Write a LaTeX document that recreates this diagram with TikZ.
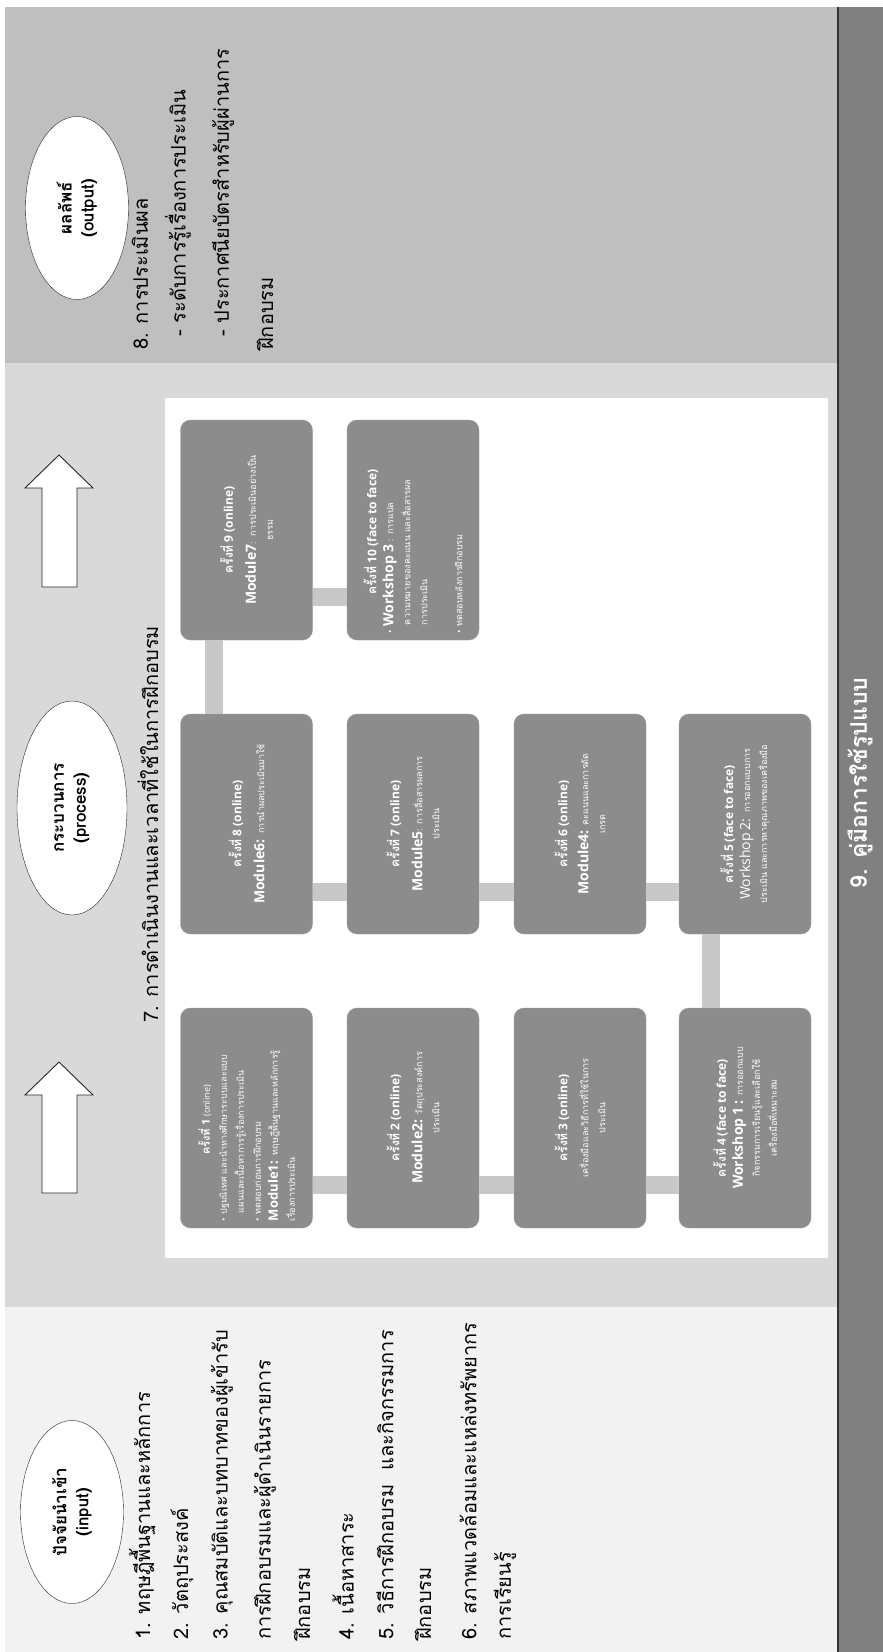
\documentclass[tikz,border=0pt]{standalone}
\usepackage{fontspec}
\setmainfont{Loma}[Script=Thai]
\newfontfamily\labelfont{Open Sans}
\usetikzlibrary{shapes.geometric, calc, positioning}

\definecolor{outPanel}{HTML}{BFBFBF}
\definecolor{procPanel}{HTML}{D9D9D9}
\definecolor{inPanel}{HTML}{F2F2F2}
\definecolor{bannerGray}{HTML}{808080}
\definecolor{boxGray}{HTML}{8C8C8C}
\definecolor{barGray}{HTML}{C8C8C8}

\newcommand{\sessiontitle}[2]{{\fontsize{12}{14}\selectfont\bfseries ครั้งที่ {\labelfont #1 #2}}}
\newcommand{\modname}[1]{{\labelfont\bfseries\fontsize{14}{16}\selectfont #1}}

\tikzset{
  phase/.style={ellipse, draw=black!85, thin, fill=white, rotate=90,
    minimum width=183pt, minimum height=103pt, inner sep=0pt, align=center,
    font=\fontsize{17}{22}\selectfont\bfseries},
  listtext/.style={rotate=90, anchor=west, inner sep=0pt,
    font=\fontsize{20}{24}\selectfont},
  module/.style={rectangle, rounded corners=10pt, fill=boxGray,
    draw=boxGray!85!white, text=white, rotate=90,
    minimum width=220pt, minimum height=132pt, text width=206pt,
    align=center, inner sep=2pt, font=\fontsize{9}{17}\selectfont},
  bar/.style={draw=barGray, line width=18pt},
  bigarrow/.style={draw=black!85, fill=white, line width=0.9pt, line join=miter}
}

\begin{document}
\begin{tikzpicture}[x=1pt, y=-1pt]
  \useasboundingbox (0,0) rectangle (883,1652);
  % Panels
  \fill[outPanel] (5,7) rectangle (837,363);
  \fill[procPanel] (5,363) rectangle (837,1307);
  \fill[inPanel] (5,1307) rectangle (837,1652);
  \fill[white] (165,398) rectangle (828,1258);
  % Banner
  \fill[bannerGray] (837,7) rectangle (883,1652);
  \draw[line width=1.5pt, black!80] (837.75,7) -- (837.75,1652);
  \node[rotate=90, text=white, font=\fontsize{23}{28}\selectfont\bfseries] (guide) at (860,783) {9. คู่มือการใช้รูปแบบ};

  % Ellipses
  \node[phase] (output) at (77,208) {ผลลัพธ์\\(output)};
  \node[phase, minimum width=214pt, minimum height=110pt] (process) at (72,808) {กระบวนการ\\(process)};
  \node[phase] (input) at (72,1512) {ปัจจัยนำเข้า\\(input)};

  % Block arrows
  \draw[bigarrow] (59,455) -- (93,488) -- (77,488) -- (77,587) -- (42,587) -- (42,488) -- (25,488) -- cycle;
  \draw[bigarrow] (59,1062) -- (93,1095) -- (77,1095) -- (77,1193) -- (42,1193) -- (42,1095) -- (25,1095) -- cycle;

  % Output list
  \node[listtext] (out1) at (140,350) {8. การประเมินผล};
  \node[listtext] (out2) at (178,337) {- ระดับการรู้เรื่องการประเมิน};
  \node[listtext] (out3) at (223,337) {- ประกาศนียบัตรสำหรับผู้ผ่านการ};
  \node[listtext] (out4) at (265,350) {ฝึกอบรม};

  % Process heading
  \node[listtext] (proc1) at (148,1023) {7. การดำเนินงานและเวลาที่ใช้ในการฝึกอบรม};

  % Input list
  \node[listtext] (in1) at (142,1640) {1. ทฤษฎีพื้นฐานและหลักการ};
  \node[listtext] (in2) at (182,1640) {2. วัตถุประสงค์};
  \node[listtext] (in3) at (222,1640) {3. คุณสมบัติและบทบาทของผู้เข้ารับ};
  \node[listtext] (in3b) at (265,1640) {การฝึกอบรมและผู้ดำเนินรายการ};
  \node[listtext] (in3c) at (302,1640) {ฝึกอบรม};
  \node[listtext] (in4) at (343,1640) {4. เนื้อหาสาระ};
  \node[listtext] (in5) at (385,1640) {5. วิธีการฝึกอบรม\ \ และกิจกรรมการ};
  \node[listtext] (in5b) at (423,1640) {ฝึกอบรม};
  \node[listtext] (in6) at (468,1640) {6. สภาพแวดล้อมและแหล่งทรัพยากร};
  \node[listtext] (in6b) at (505,1640) {การเรียนรู้};

  % Sessions
  \node[module, align=left] (m1) at (246.5,1118) {\makebox[202pt][c]{{\fontsize{11}{13}\selectfont\bfseries ครั้งที่ {\labelfont 1}} {\labelfont (online)}}\\
    {\labelfont •} ปฐมนิเทศ และนำทางศึกษาระบบและแบบ\\
    \hspace*{8pt}แผนและเนื้อหาการรู้เรื่องการประเมิน\\
    {\labelfont •} ทดสอบก่อนการฝึกอบรม\\
    {\labelfont\bfseries\fontsize{13}{15}\selectfont Module1:}\ \ ทฤษฎีพื้นฐานและหลักการรู้\\
    เรื่องการประเมิน};
  \node[module] (m2) at (413,1118) {\sessiontitle{2}{(online)}\\[6pt] \modname{Module2:} วัตถุประสงค์การ\\ ประเมิน};
  \node[module] (m3) at (580,1118) {\sessiontitle{3}{(online)}\\[4pt] เครื่องมือและวิธีการที่ใช้ในการ\\ ประเมิน};
  \node[module] (m4) at (745,1118) {\sessiontitle{4}{(face to face)}\\ \modname{Workshop 1 :} การออกแบบ\\ กิจกรรมการเรียนรู้และเลือกใช้\\ เครื่องมือที่เหมาะสม};
  \node[module] (m5) at (745,824) {\sessiontitle{5}{(face to face)}\\ {\labelfont\fontsize{14}{16}\selectfont Workshop 2:}\ \ การออกแบบการ\\ ประเมิน และการหาคุณภาพของเครื่องมือ};
  \node[module] (m6) at (580,824) {\sessiontitle{6}{(online)}\\[4pt] \modname{Module4:} คะแนนและการตัด\\ เกรด};
  \node[module] (m7) at (413,824) {\sessiontitle{7}{(online)}\\[6pt] \modname{Module5}: การสื่อสารผลการ\\ ประเมิน};
  \node[module] (m8) at (246.5,824) {\sessiontitle{8}{(online)}\\[6pt] \modname{Module6:}\ \ การนำผลประเมินมาใช้};
  \node[module] (m9) at (246.5,530) {\sessiontitle{9}{(online)}\\[6pt] \modname{Module7}:\ \ การประเมินอย่างเป็น\\ ธรรม};
  \node[module, align=left] (m10) at (413,530) {\makebox[202pt][c]{\sessiontitle{10}{(face to face)}}\\
    {\labelfont •} \modname{Workshop 3} : การแปล\\
    \hspace*{8pt}ความหมายของคะแนน และสื่อสารผล\\
    \hspace*{8pt}การประเมิน\\[18pt]
    {\labelfont •} ทดสอบหลังการฝึกอบรม};

  % Links between sessions
  \draw[bar] ([yshift=43pt]m1.south west) -- ([yshift=43pt]m2.north west);
  \draw[bar] ([yshift=43pt]m2.south west) -- ([yshift=43pt]m3.north west);
  \draw[bar] ([yshift=43pt]m3.south west) -- ([yshift=43pt]m4.north west);
  \draw[bar] ([xshift=32pt]m4.north east) -- ([xshift=32pt]m5.north west);
  \draw[bar] ([yshift=42pt]m6.south west) -- ([yshift=42pt]m5.north west);
  \draw[bar] ([yshift=42pt]m7.south west) -- ([yshift=42pt]m6.north west);
  \draw[bar] ([yshift=42pt]m8.south west) -- ([yshift=42pt]m7.north west);
  \draw[bar] ([xshift=34pt]m8.north east) -- ([xshift=34pt]m9.north west);
  \draw[bar] ([yshift=43pt]m9.south west) -- ([yshift=43pt]m10.north west);
\end{tikzpicture}
\end{document}
